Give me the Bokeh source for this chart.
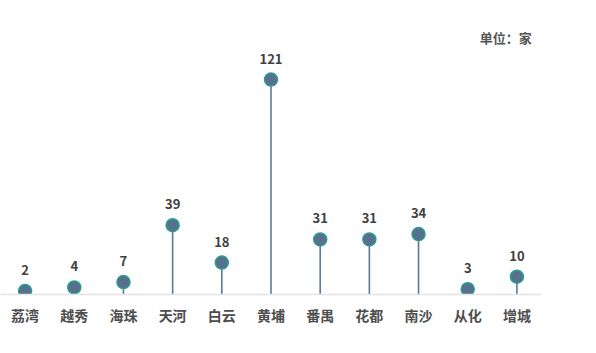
from bokeh.plotting import figure
from bokeh.models import ColumnDataSource, FactorRange, Range1d, Label
from bokeh.core.properties import value
from bokeh.embed import file_html
from bokeh.resources import INLINE

districts = ["荔湾", "越秀", "海珠", "天河", "白云", "黄埔", "番禺", "花都", "南沙", "从化", "增城"]
counts = [2, 4, 7, 39, 18, 121, 31, 31, 34, 3, 10]
unit_label = "单位：家"

FONT = "Noto Sans CJK SC"

src = ColumnDataSource(dict(
    x=districts,
    y=counts,
    base=[0] * len(counts),
    txt=[str(c) for c in counts],
))

p = figure(
    width=596, height=353,
    x_range=FactorRange(*districts, range_padding=0),
    y_range=Range1d(0, 165.5),
    output_backend="svg", toolbar_location=None,
    min_border_left=0, min_border_right=55, min_border_top=0, min_border_bottom=59,
)
p.outline_line_color = None
p.background_fill_color = "white"
p.border_fill_color = "white"
p.xgrid.grid_line_color = None
p.ygrid.grid_line_color = None
p.yaxis.visible = False

ax = p.xaxis[0]
ax.axis_line_color = "#e3e3e3"
ax.axis_line_width = 1.5
ax.major_tick_line_color = None
ax.minor_tick_line_color = None
ax.major_label_text_font = FONT
ax.major_label_text_font_style = "bold"
ax.major_label_text_font_size = "14px"
ax.major_label_text_color = "#4d4d4d"
ax.major_label_standoff = 4

p.segment(x0="x", y0="base", x1="x", y1="y", source=src,
          line_color="#5a7a9a", line_width=1.6)
p.scatter(x="x", y="y", source=src, size=13,
          fill_color="#56708e", line_color="#2a9d8f", line_width=1.5)
p.text(x="x", y="y", text="txt", source=src,
       text_font=value(FONT), text_font_style="bold", text_font_size="13px",
       text_color="#404040", text_align="center", text_baseline="middle",
       y_offset=-21)

p.add_layout(Label(x=10.8, y=144.6, text=unit_label,
                   text_font=FONT, text_font_style="bold", text_font_size="13px",
                   text_color="#555555", text_align="right", text_baseline="middle"))

open("out.html", "w").write(file_html(p, INLINE))
